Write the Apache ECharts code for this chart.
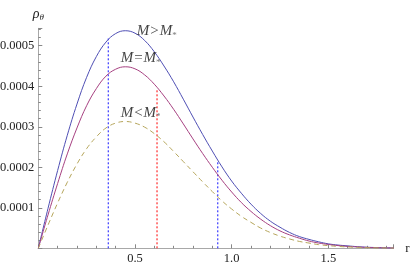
<!DOCTYPE html>
<html>
<head>
<meta charset="utf-8">
<script src="https://cdn.jsdelivr.net/npm/echarts@6/dist/echarts.min.js"></script>
<style>
html,body{margin:0;padding:0;background:#fff;}
#chart{width:415px;height:267px;}
</style>
</head>
<body>
<div id="chart"></div>
<script>
var rVals = [0,0.05,0.10,0.15,0.20,0.25,0.30,0.35,0.40,0.45,0.50,0.55,0.60,0.65,0.70,0.75,0.80,0.85,0.90,0.95,1.00,1.05,1.10,1.15,1.20,1.25,1.30,1.35,1.40,1.45,1.50,1.55,1.60,1.65,1.70,1.75,1.80,1.84];
var rhoGreater = [0,0.98e-4,1.92e-4,2.79e-4,3.56e-4,4.22e-4,4.73e-4,5.09e-4,5.30e-4,5.37e-4,5.31e-4,5.13e-4,4.85e-4,4.50e-4,4.11e-4,3.68e-4,3.24e-4,2.81e-4,2.40e-4,2.01e-4,1.66e-4,1.36e-4,1.09e-4,0.86e-4,0.67e-4,0.52e-4,0.39e-4,0.29e-4,0.22e-4,0.16e-4,0.11e-4,0.08e-4,0.06e-4,0.04e-4,0.026e-4,0.018e-4,0.012e-4,0.009e-4];
var rhoEqual = [0,0.82e-4,1.60e-4,2.33e-4,2.97e-4,3.52e-4,3.94e-4,4.25e-4,4.42e-4,4.48e-4,4.43e-4,4.28e-4,4.05e-4,3.76e-4,3.43e-4,3.07e-4,2.70e-4,2.34e-4,2.00e-4,1.68e-4,1.39e-4,1.13e-4,0.91e-4,0.72e-4,0.56e-4,0.43e-4,0.33e-4,0.25e-4,0.18e-4,0.13e-4,0.095e-4,0.067e-4,0.047e-4,0.033e-4,0.022e-4,0.015e-4,0.010e-4,0.007e-4];
var rhoLess = [0,0.57e-4,1.12e-4,1.63e-4,2.08e-4,2.46e-4,2.75e-4,2.97e-4,3.09e-4,3.13e-4,3.09e-4,2.99e-4,2.83e-4,2.63e-4,2.39e-4,2.14e-4,1.89e-4,1.64e-4,1.40e-4,1.17e-4,0.97e-4,0.79e-4,0.64e-4,0.50e-4,0.39e-4,0.30e-4,0.23e-4,0.17e-4,0.13e-4,0.09e-4,0.066e-4,0.047e-4,0.033e-4,0.023e-4,0.015e-4,0.010e-4,0.007e-4,0.005e-4];
// vertical marker lines: [r, top value]
var markBlue1 = [0.362, 5.18e-4];
var markRed = [0.614, 3.95e-4];
var markBlue2 = [0.928, 2.16e-4];
// curve labels: [r, value, kind]
var curveLabels = [[0.509, 5.37e-4, '>'], [0.426, 4.70e-4, '='], [0.426, 3.35e-4, '<']];
var xTicks = [0.5, 1.0, 1.5];
var yTicks = [0.0001, 0.0002, 0.0003, 0.0004, 0.0005];

function zip(xs, ys){ return xs.map(function(x,i){ return [x, ys[i]]; }); }
function vline(m){ return [[m[0],0],[m[0],m[1]]]; }

var serif = '"Liberation Serif", "Times New Roman", serif';
var chart = echarts.init(document.getElementById('chart'), null, {renderer:'canvas'});
chart.setOption({
  animation:false,
  backgroundColor:'#fff',
  grid:{left:38.3, right:21.7, top:28.3, bottom:18.7, containLabel:false, outerBoundsMode:'none'},
  xAxis:{
    type:'value', min:0, max:1.836, interval:0.5,
    name:'r', nameLocation:'end', nameGap:12,
    nameTextStyle:{fontFamily:serif, fontSize:13, color:'#222', verticalAlign:'middle'},
    axisLine:{lineStyle:{color:'#a8a8a8', width:1}},
    axisTick:{inside:true, length:4, lineStyle:{color:'#888'}},
    minorTick:{show:true, splitNumber:5, length:2.5, lineStyle:{color:'#888'}},
    splitLine:{show:false},
    axisLabel:{fontFamily:serif, fontSize:12.5, color:'#222', margin:4, showMaxLabel:false,
      formatter:function(v){ return xTicks.indexOf(+v.toFixed(1))>=0 ? v.toFixed(1) : ''; }}
  },
  yAxis:{
    type:'value', min:0, max:0.000543, interval:0.0001,
    name:'{r|ρ}{s|θ}', nameLocation:'end', nameGap:6,
    nameTextStyle:{align:'center', rich:{
      r:{fontFamily:serif, fontStyle:'italic', fontSize:14, color:'#222'},
      s:{fontFamily:serif, fontStyle:'italic', fontSize:9, color:'#222', padding:[7,0,0,0]}
    }},
    axisLine:{show:true, lineStyle:{color:'#a8a8a8', width:1}},
    axisTick:{show:true, inside:true, length:4, lineStyle:{color:'#888'}},
    minorTick:{show:true, splitNumber:5, length:2.5, lineStyle:{color:'#888'}},
    splitLine:{show:false},
    axisLabel:{fontFamily:serif, fontSize:12.5, color:'#222', margin:4, showMaxLabel:false,
      formatter:function(v){ return v>0 && yTicks.some(function(t){return Math.abs(t-v)<1e-9;}) ? v.toFixed(4) : ''; }}
  },
  series:[
    {type:'line', data:zip(rVals, rhoGreater), smooth:0.4, showSymbol:false, z:3,
      lineStyle:{color:'#4f4fb4', width:1}},
    {type:'line', data:zip(rVals, rhoEqual), smooth:0.4, showSymbol:false, z:3,
      lineStyle:{color:'#a64080', width:1}},
    {type:'line', data:zip(rVals, rhoLess), smooth:0.4, showSymbol:false, z:3,
      lineStyle:{color:'#b5a55a', width:1, type:[5,3.5]}},
    {type:'line', data:vline(markBlue1), showSymbol:false, z:2,
      lineStyle:{color:'#3a3aff', width:1.2, type:[2,2]}},
    {type:'line', data:vline(markRed), showSymbol:false, z:2,
      lineStyle:{color:'#ff2a2a', width:1.2, type:[2,2]}},
    {type:'line', data:vline(markBlue2), showSymbol:false, z:2,
      lineStyle:{color:'#3a3aff', width:1.2, type:[2,2]}},
    {type:'scatter', symbolSize:0, z:5, silent:true,
      data:curveLabels.map(function(d){ return {value:[d[0], d[1]], kind:d[2]}; }),
      label:{show:true, position:'right', distance:0, align:'left', verticalAlign:'middle',
        formatter:function(p){ return '{i|M}{o|' + p.data.kind + '}{i|M}{s|*}'; },
        rich:{
          i:{fontFamily:serif, fontStyle:'italic', fontSize:15, color:'#111'},
          o:{fontFamily:serif, fontSize:15, color:'#111', padding:[0,1,0,1]},
          s:{fontFamily:serif, fontSize:9, color:'#555', padding:[9,0,0,0]}
        }}
    }
  ]
});
</script>
</body>
</html>
